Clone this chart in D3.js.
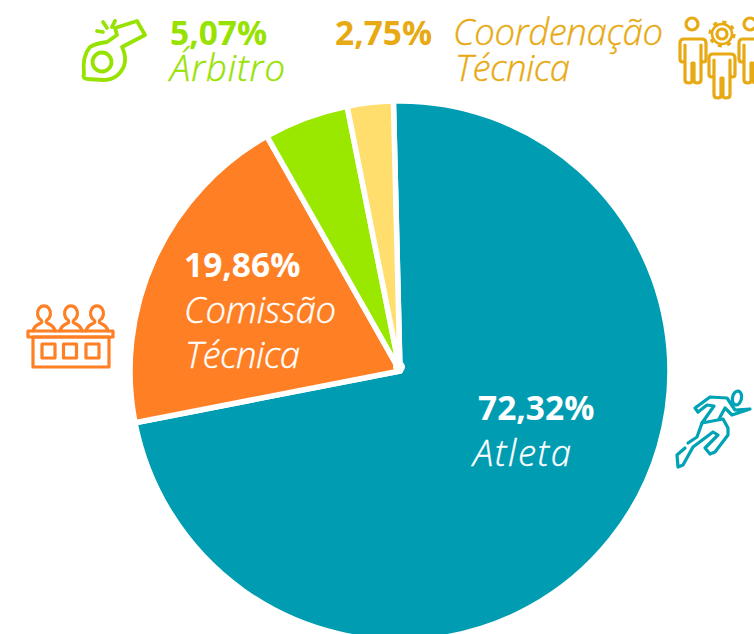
<!DOCTYPE html>
<html lang="pt">
<head>
<meta charset="utf-8">
<title>Pie</title>
<script src="https://d3js.org/d3.v7.min.js"></script>
<style>
html, body { margin: 0; padding: 0; background: #fff; overflow: hidden; }
svg { display: block; }
text { font-family: "Open Sans", sans-serif; }
.pct { font-weight: 700; font-size: 33.5px; }
.lbl { font-weight: 300; font-style: italic; font-size: 36.5px; stroke-width: 0.35; }
.icon { fill: none; stroke-width: 3.2; stroke-linejoin: round; stroke-linecap: round; }
</style>
</head>
<body>
<script>
var categories = ["Atleta", "Comissão Técnica", "Árbitro", "Coordenação Técnica"];
var values = [72.32, 19.86, 5.07, 2.75];
var valueLabels = ["72,32%", "19,86%", "5,07%", "2,75%"];
var colors = ["#009db2", "#ff7f24", "#9ae800", "#ffde6e"];

var w = 754, h = 634;
var cx = 400, cy = 371, radius = 270;
var gold = "#e8aa14", lime = "#97e200";

var svg = d3.select("body").append("svg").attr("width", w).attr("height", h);

// slices, rotated a touch so the first one starts just left of 12 o'clock
var startAngle = -1.4 * Math.PI / 180;
var pie = d3.pie().sort(null).startAngle(startAngle).endAngle(startAngle + 2 * Math.PI);
var arc = d3.arc().innerRadius(0).outerRadius(radius);

svg.append("g")
	.attr("transform", "translate(" + cx + "," + cy + ")")
	.selectAll("path")
	.data(pie(values))
	.enter()
	.append("path")
	.attr("d", arc)
	.attr("fill", function(d, i) { return colors[i]; })
	.attr("stroke", "#fff")
	.attr("stroke-width", 5.5)
	.attr("stroke-linejoin", "round");

// the white blob where the slices meet
svg.append("circle").attr("cx", cx - 1).attr("cy", cy - 4).attr("r", 6).attr("fill", "#fff");

function pct(i, x, y, color) {
	svg.append("text").attr("class", "pct").attr("x", x).attr("y", y).attr("fill", color).text(valueLabels[i]);
}
function lbl(str, x, y, len, color) {
	svg.append("text").attr("class", "lbl").attr("x", x).attr("y", y)
		.attr("textLength", len).attr("fill", color).attr("stroke", color).text(str);
}

// labels
pct(0, 478, 420, "#fff");
lbl(categories[0], 473, 466, 98, "#fff");
pct(1, 184, 277, "#fff");
lbl("Comissão", 184, 323, 152, "#fff");
lbl("Técnica", 185, 368, 115, "#fff");
pct(2, 170, 45, lime);
lbl(categories[2], 170, 81, 115, lime);
pct(3, 335, 45, gold);
lbl("Coordenação", 453, 45, 210, gold);
lbl("Técnica", 455, 81, 115, gold);

// whistle
var whistle = svg.append("g").attr("class", "icon").attr("stroke", lime).style("stroke-width", 3.8);
whistle.append("path").attr("d", "M107,42 L117,35 L115,28 L137,21 L145,35 L122,47 Q127,57 124,66 Q118,80 103,80 L87,79 Q82,78 84,74 Q82,56 90,47 Q97,43 107,42 Z");
whistle.append("circle").attr("cx", 102).attr("cy", 62).attr("r", 9.5);
whistle.append("path").attr("d", "M97,31 L103,32 M103,22 L107,28 M115,21 L112,27");

// coordination staff
function person(g, x, y) {
	g.append("path").attr("transform", "translate(" + x + "," + y + ")")
		.attr("d", "M-9,0 H9 Q13,0 13,4 V20 Q13,23 10.5,23 Q8,23 8,20 V6 M-8,6 V20 Q-8,23 -10.5,23 Q-13,23 -13,20 V4 Q-13,0 -9,0 M8,8 V41 Q8,44 4,44 Q1,44 1,41 V24 M-8,8 V41 Q-8,44 -4,44 Q-1,44 -1,41 V24 H1");
}
var staff = svg.append("g").attr("class", "icon").attr("stroke", gold);
staff.append("circle").attr("cx", 692).attr("cy", 24).attr("r", 6);
person(staff, 693, 39);
person(staff, 722, 54);
staff.append("circle").attr("cx", 750).attr("cy", 24).attr("r", 6);
person(staff, 752, 39);
staff.append("circle").attr("cx", 722).attr("cy", 34).attr("r", 5);
staff.append("circle").attr("cx", 722).attr("cy", 34).attr("r", 10).style("stroke-width", 2.6);
staff.append("circle").attr("cx", 722).attr("cy", 34).attr("r", 12)
	.attr("stroke-dasharray", "4 5.42").style("stroke-linecap", "butt");

// jury desk
var jury = svg.append("g").attr("class", "icon").attr("stroke", "#ff7f24");
jury.append("rect").attr("x", 28).attr("y", 331).attr("width", 85).attr("height", 6);
jury.append("rect").attr("x", 33).attr("y", 337).attr("width", 76).attr("height", 30);
[42, 63.5, 86].forEach(function(x) {
	jury.append("rect").attr("x", x).attr("y", 344).attr("width", 13).attr("height", 14);
});
[44, 71, 97].forEach(function(x) {
	jury.append("path").attr("d", "M" + (x - 11) + ",331 Q" + (x - 10) + ",326 " + (x - 4) + ",323.5 Q" + (x - 1) + ",322.5 " + (x - 3) + ",320 A6.5 7.5 0 1 1 " + (x + 3) + ",320 Q" + (x + 1) + ",322.5 " + (x + 4) + ",323.5 Q" + (x + 10) + ",326 " + (x + 11) + ",331");
});

// runner
var runner = svg.append("g").attr("class", "icon").attr("stroke", "#00a3b5");
runner.append("ellipse").attr("cx", 737).attr("cy", 398).attr("rx", 4.5).attr("ry", 7).attr("transform", "rotate(12 737 398)");
runner.append("path").attr("d", "M698,412 L695,408 L710,397 L727,398 L735,410 L750,409 L732,415 L725,408 L719,419");
runner.append("path").attr("d", "M698,412 L707,405 L714,406 L702,423 L723,419 L728,428 L728,435 L715,452 L710,454 L705,448 L718,435 L713,432 L693,447 L683,465 L678,467 L677,455 L685,448");
runner.append("path").attr("d", "M702,423 L697,437 L688,443");
</script>
</body>
</html>
